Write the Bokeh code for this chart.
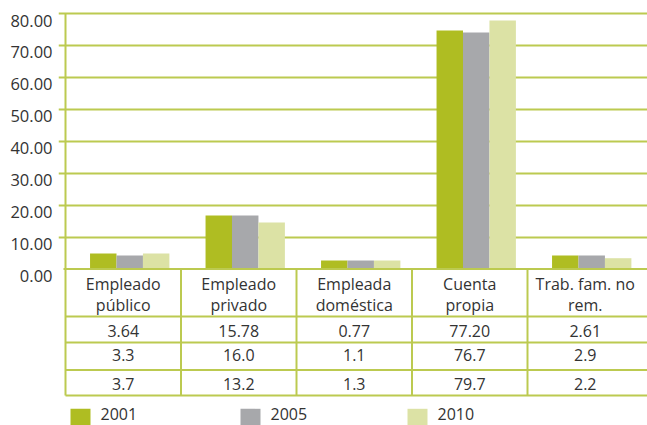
from bokeh.plotting import figure
from bokeh.models import Range1d, LinearAxis, FixedTicker, PrintfTickFormatter, Grid
from bokeh.core.properties import value
from bokeh.embed import file_html
from bokeh.resources import INLINE

# ---------------- data ----------------
categories = ["Empleado público", "Empleado privado", "Empleada doméstica",
              "Cuenta propia", "Trab. fam. no rem."]
header_line1 = ["Empleado", "Empleado", "Empleada", "Cuenta", "Trab. fam. no"]
header_line2 = ["público", "privado", "doméstica", "propia", "rem."]
years = ["2001", "2005", "2010"]

# bar heights as drawn in the picture
bar_2001 = [4.85, 16.75, 2.66, 74.67, 4.23]
bar_2005 = [4.23, 16.75, 2.66, 74.04, 4.23]
bar_2010 = [4.85, 14.56, 2.66, 77.80, 3.38]

# values printed in the data table
table_2001 = [3.64, 15.78, 0.77, 77.20, 2.61]
table_2005 = [3.3, 16.0, 1.1, 76.7, 2.9]
table_2010 = [3.7, 13.2, 1.3, 79.7, 2.2]
table_formats = ["%.2f", "%.1f", "%.1f"]

y_ticks = [0, 10, 20, 30, 40, 50, 60, 70, 80]

# ---------------- style / layout ----------------
colors = ["#AFBD22", "#A7A8AB", "#DCE2A5"]
GRID = "#BCCA50"
TXT = "#333333"
FONT = "Open Sans"

W, H = 647, 425
FRAME_L, FRAME_R = 58, W              # canvas coords
FRAME_T, FRAME_B = 0, H
X0, CW = 65.0, 115.5                  # x of category 0, px per category
Y80, Y0 = 13.0, 268.5                 # y of 80 and of 0
S = (Y0 - Y80) / 80.0                 # px per unit
LABEL_SHIFT = 7.0                     # tick labels sit a bit below their lines
TEXT_ADJ = -6.0                       # text glyph baseline correction

x_range = Range1d((FRAME_L - X0) / CW, (FRAME_R - X0) / CW)
y_start = -(FRAME_B - Y0) / S
y_end = 80 + (Y80 - FRAME_T) / S
y_range = Range1d(y_start, y_end)

p = figure(width=W, height=H, x_range=x_range, y_range=y_range,
           output_backend="svg", toolbar_location=None,
           x_axis_location=None, y_axis_location=None,
           min_border_left=FRAME_L, min_border_right=0,
           min_border_top=0, min_border_bottom=0,
           background_fill_color="white", border_fill_color="white")
p.outline_line_color = None
p.grid.visible = False

d = LABEL_SHIFT / S
p.extra_y_ranges = {"lab": Range1d(y_start + d, y_end + d),
                    "py": Range1d(FRAME_B, FRAME_T)}
p.extra_x_ranges = {"px": Range1d(FRAME_L, FRAME_R)}

# gridlines
grid = Grid(dimension=1, ticker=FixedTicker(ticks=[t for t in y_ticks if t > 0]),
            grid_line_color=GRID, grid_line_width=2)
p.add_layout(grid)

# y axis (labels only)
yax = LinearAxis(y_range_name="lab", ticker=FixedTicker(ticks=y_ticks),
                 formatter=PrintfTickFormatter(format="%.2f"),
                 axis_line_color=None, major_tick_line_color=None,
                 minor_tick_line_color=None, major_tick_out=0, major_tick_in=0,
                 major_label_standoff=6,
                 major_label_text_font=FONT, major_label_text_font_size="16.5px",
                 major_label_text_color=TXT)
p.add_layout(yax, "left")

# bars
BAR_SHIFT, BAR_W = 0.556, 0.229
for k, (vals, col) in enumerate(zip([bar_2001, bar_2005, bar_2010], colors)):
    xs = [i + BAR_SHIFT + (k - 1) * BAR_W for i in range(len(categories))]
    p.vbar(x=xs, top=vals, bottom=0, width=BAR_W,
           fill_color=col, line_color=None)

# table lines
row_lines = [Y0, 316, 342, 369.5, 395]
row_x0 = [63] + [65] * (len(row_lines) - 1)
p.segment(x0=row_x0, x1=[FRAME_R] * len(row_lines),
          y0=row_lines, y1=row_lines, x_range_name="px", y_range_name="py",
          line_color=GRID, line_width=2)
ncat = len(categories)
p.segment(x0=list(range(1, ncat)), x1=list(range(1, ncat)),
          y0=[Y0] * (ncat - 1), y1=[395] * (ncat - 1), y_range_name="py",
          line_color=GRID, line_width=2)
p.segment(x0=[0], x1=[0], y0=[Y80], y1=[395], y_range_name="py",
          line_color=GRID, line_width=2)

# table text
cx = [i + 0.5 for i in range(ncat)]
text_kw = dict(y_range_name="py", text_align="center", text_baseline="alphabetic",
               text_font=value(FONT), text_font_size="16px", text_color=TXT)
p.text(x=cx, y=[289 + TEXT_ADJ] * ncat, text=header_line1, **text_kw)
p.text(x=cx, y=[310.5 + TEXT_ADJ] * ncat, text=header_line2, **text_kw)
for row, fmt, base in zip([table_2001, table_2005, table_2010], table_formats,
                          [336.7, 360.7, 389]):
    p.text(x=cx, y=[base + TEXT_ADJ] * ncat, text=[fmt % v for v in row], **text_kw)

# legend
leg_x = [70, 240, 407]
p.quad(left=leg_x, right=[x + 20 for x in leg_x], top=[408.3] * 3, bottom=[428.3] * 3,
       fill_color=colors, line_color=None, x_range_name="px", y_range_name="py")
p.text(x=[x + 30 for x in leg_x], y=[419.3 + TEXT_ADJ] * 3, text=years,
       x_range_name="px", y_range_name="py", text_align="left",
       text_baseline="alphabetic", text_font=value(FONT),
       text_font_size="16px", text_color=TXT)

open("out.html", "w").write(file_html(p, INLINE))
